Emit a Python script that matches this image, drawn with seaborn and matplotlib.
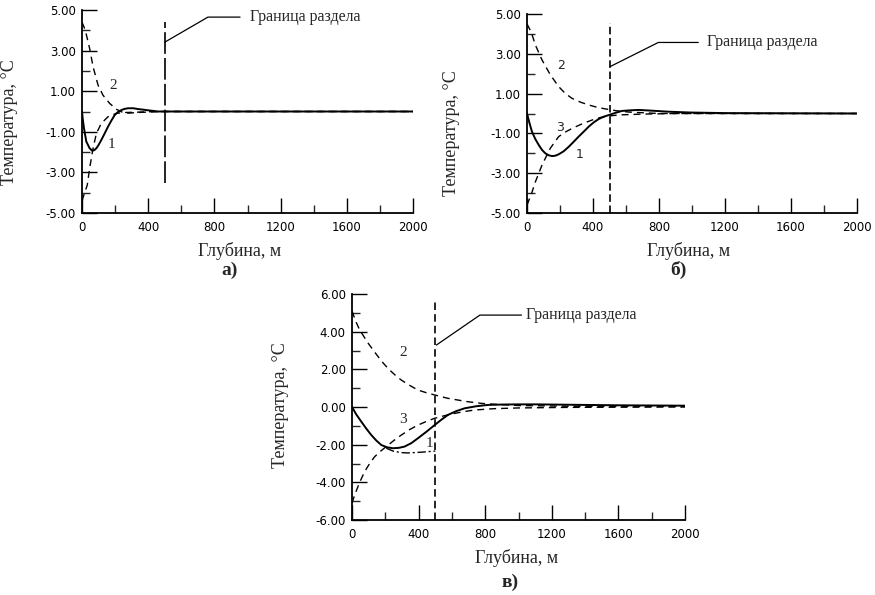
import numpy as np
import pandas as pd
import matplotlib
matplotlib.use("Agg")
import matplotlib.pyplot as plt
import seaborn as sns
from matplotlib.ticker import MultipleLocator, FormatStrFormatter

sns.set_style("ticks")
plt.rcParams["font.family"] = ["DejaVu Sans"]

# ---------------- data ----------------
# panel а
a_c1_depth = [0, 5, 12, 26, 46, 61, 75, 87, 100, 117, 137, 157, 178, 198, 218, 238, 258, 278, 310, 339, 370, 399, 430, 460, 600, 1000, 2000]
a_c1_temp = [0, -0.4, -0.82, -1.48, -1.81, -1.93, -1.9, -1.81, -1.65, -1.4, -1.08, -0.75, -0.44, -0.17, -0.02, 0.07, 0.13, 0.16, 0.16, 0.12, 0.09, 0.06, 0.03, 0.0, 0.0, 0.0, 0.0]
a_c2_depth = [0, 20, 46, 67, 97, 127, 167, 210, 258, 300, 359, 420, 500, 1000, 2000]
a_c2_temp = [4.4, 4.0, 3.11, 2.2, 1.3, 0.8, 0.4, 0.1, -0.09, -0.07, -0.04, -0.02, 0.0, 0.0, 0.0]
a_c3_depth = [0, 16, 32, 46, 67, 87, 117, 157, 208, 260, 350, 450, 1000, 2000]
a_c3_temp = [-4.4, -4.0, -3.62, -2.8, -1.81, -1.08, -0.58, -0.26, -0.09, -0.05, -0.03, 0.0, 0.0, 0.0]

# panel б
b_c1_depth = [0, 15, 30, 50, 71, 91, 111, 132, 152, 172, 192, 222, 253, 283, 313, 344, 374, 404, 434, 465, 495, 535, 576, 627, 677, 760, 859, 988, 1200, 2000]
b_c1_temp = [0, -0.48, -0.91, -1.28, -1.58, -1.83, -2.0, -2.1, -2.14, -2.12, -2.05, -1.9, -1.67, -1.42, -1.16, -0.91, -0.66, -0.45, -0.28, -0.16, -0.08, 0.03, 0.13, 0.16, 0.18, 0.14, 0.09, 0.05, 0.02, 0.0]
b_c2_depth = [0, 26, 51, 91, 141, 192, 233, 273, 324, 374, 425, 475, 540, 620, 800, 1000, 2000]
b_c2_temp = [4.5, 4.08, 3.44, 2.69, 1.95, 1.35, 1.0, 0.76, 0.57, 0.43, 0.31, 0.23, 0.14, 0.07, 0.0, 0.0, 0.0]
b_c3_depth = [0, 26, 51, 91, 141, 192, 233, 273, 334, 394, 445, 500, 563, 700, 900, 2000]
b_c3_temp = [-4.6, -4.06, -3.43, -2.59, -1.75, -1.16, -0.93, -0.75, -0.52, -0.33, -0.2, -0.12, -0.07, -0.03, 0.0, 0.0]

# panel в
c_c1_depth = [0, 26, 56, 86, 116, 146, 176, 211, 246, 281, 316, 356, 396, 446, 496, 536, 576, 626, 676, 746, 816, 900, 1000, 1108, 1300, 1600, 2000]
c_c1_temp = [0, -0.4, -0.78, -1.15, -1.49, -1.78, -2.02, -2.14, -2.19, -2.17, -2.1, -1.92, -1.66, -1.32, -0.96, -0.68, -0.42, -0.22, -0.07, 0.04, 0.11, 0.13, 0.14, 0.14, 0.12, 0.09, 0.07]
c_c2_depth = [0, 20, 46, 96, 146, 181, 216, 256, 296, 346, 396, 446, 496, 536, 576, 636, 696, 780, 868, 1000, 1300, 2000]
c_c2_temp = [5.1, 4.6, 4.09, 3.4, 2.8, 2.4, 2.05, 1.72, 1.43, 1.15, 0.9, 0.76, 0.64, 0.55, 0.46, 0.37, 0.28, 0.19, 0.14, 0.08, 0.04, 0.03]
c_c3_depth = [0, 16, 46, 76, 106, 136, 171, 206, 251, 296, 346, 396, 446, 496, 556, 616, 676, 736, 850, 1000, 1300, 2000]
c_c3_temp = [-5.1, -4.67, -4.0, -3.43, -3.0, -2.64, -2.35, -2.1, -1.78, -1.49, -1.2, -0.96, -0.77, -0.6, -0.46, -0.34, -0.24, -0.16, -0.09, -0.05, -0.02, 0.0]
c_c1b_depth = [206, 250, 296, 336, 376, 416, 456, 500]
c_c1b_temp = [-2.19, -2.35, -2.42, -2.44, -2.42, -2.4, -2.37, -2.34]

boundary_depth = 500
boundary_top = [4.41, 4.53, 5.68]
boundary_bottom = [-3.52, -5.0, -6.0]

leader_x = [[501, 761, 955], [502, 796, 1038], [507, 768, 1018]]
leader_y = [[3.42, 4.65, 4.65], [2.35, 3.57, 3.57], [3.29, 4.88, 4.88]]
leader_text = "Граница раздела"
leader_text_x = [1015, 1089, 1048]

label_names = [["2", "1"], ["2", "3", "1"], ["2", "3", "1"]]
label_x = [[190, 180], [208, 202, 320], [307, 307, 466]]
label_y = [[1.3, -1.65], [2.4, -0.7, -2.08], [2.88, -0.65, -1.96]]

ylims = [(-5, 5), (-5, 5), (-6, 6)]
y_major = [2, 2, 2]
y_first = [-5, -5, -6]
x_label = "Глубина, м"
y_label = "Температура, °C"
panel_letters = ["а)", "б)", "в)"]

# ---------------- layout ----------------
fig = plt.figure(figsize=(8.75, 5.95), dpi=100)
W, H = 875, 595
boxes = [(82, 413, 10, 213), (527, 857, 14, 213), (352, 685, 294, 520)]
ylab_pos = [(-0.194, 0.448), (-0.204, 0.40), (-0.189, 0.509)]
xlab_pos = [(0.477, -0.145), (0.49, -0.148), (0.495, -0.13)]
letter_pos = [(230, 270), (678, 270), (510, 582)]
bnd_dash = [(13, 2.5), (4.5, 2.2), (4.5, 2.5)]

serif = "Liberation Serif"

curves = [
    [(a_c1_depth, a_c1_temp, "-"), (a_c2_depth, a_c2_temp, "--"), (a_c3_depth, a_c3_temp, "--")],
    [(b_c1_depth, b_c1_temp, "-"), (b_c2_depth, b_c2_temp, "--"), (b_c3_depth, b_c3_temp, "--")],
    [(c_c1_depth, c_c1_temp, "-"), (c_c2_depth, c_c2_temp, "--"), (c_c3_depth, c_c3_temp, "--"),
     (c_c1b_depth, c_c1b_temp, "-.")],
]

for i, (l, r, t, b) in enumerate(boxes):
    ax = fig.add_axes([l / W, 1 - b / H, (r - l) / W, (b - t) / H])
    for d, tt, ls in curves[i]:
        df = pd.DataFrame({"depth": d, "temp": tt})
        if ls == "-":
            sns.lineplot(data=df, x="depth", y="temp", ax=ax, color="black", lw=1.4,
                         estimator=None, sort=False)
        elif ls == "--":
            sns.lineplot(data=df, x="depth", y="temp", ax=ax, color="black", lw=1.0,
                         estimator=None, sort=False)
            ax.lines[-1].set_dashes((5, 3.6))
        else:
            sns.lineplot(data=df, x="depth", y="temp", ax=ax, color="black", lw=1.0,
                         estimator=None, sort=False)
            ax.lines[-1].set_dashes((6, 2, 1.5, 2))
    # boundary
    bl, = ax.plot([boundary_depth, boundary_depth], [boundary_bottom[i], boundary_top[i]],
                  color="black", lw=1.2)
    bl.set_dashes(bnd_dash[i])
    # leader and text
    ax.plot(leader_x[i], leader_y[i], color="black", lw=0.9)
    ax.text(leader_text_x[i], leader_y[i][-1], leader_text, family=serif, fontsize=11.5,
            va="center", ha="left")
    for nm, lx, ly in zip(label_names[i], label_x[i], label_y[i]):
        ax.text(lx, ly, nm, family=serif if i != 1 else "DejaVu Sans",
                fontsize=11 if i != 1 else 9, ha="center", va="center")

    ax.set_xlim(0, 2000)
    ax.set_ylim(*ylims[i])
    ax.xaxis.set_major_locator(MultipleLocator(400))
    ax.xaxis.set_minor_locator(MultipleLocator(200))
    ax.yaxis.set_major_locator(MultipleLocator(y_major[i]))
    ax.yaxis.set_major_formatter(FormatStrFormatter("%.2f"))
    ax.yaxis.set_minor_locator(MultipleLocator(1))
    if i < 2:
        ax.set_yticks(np.arange(y_first[i], ylims[i][1] + 0.01, y_major[i]))
    ax.tick_params(which="major", direction="in", length=10.5, width=1.0, labelsize=8.5,
                   pad=4.5, colors="black")
    ax.tick_params(which="minor", direction="in", length=5.5, width=1.0)
    ax.tick_params(axis="x", which="major", pad=6)
    for s in ["top", "right"]:
        ax.spines[s].set_visible(False)
    for s in ["left", "bottom"]:
        ax.spines[s].set_linewidth(1.3)
        ax.spines[s].set_color("black")
    ax.set_xlabel(x_label, family=serif, fontsize=13)
    ax.set_ylabel(y_label, family=serif, fontsize=13)
    ax.yaxis.set_label_coords(*ylab_pos[i])
    ax.xaxis.set_label_coords(*xlab_pos[i])
    ax.grid(False)
    fig.text(letter_pos[i][0] / W, 1 - letter_pos[i][1] / H, panel_letters[i], family=serif,
             fontsize=14, fontweight="bold", ha="center", va="center")

fig.savefig("out.png", dpi=100, facecolor="white")
